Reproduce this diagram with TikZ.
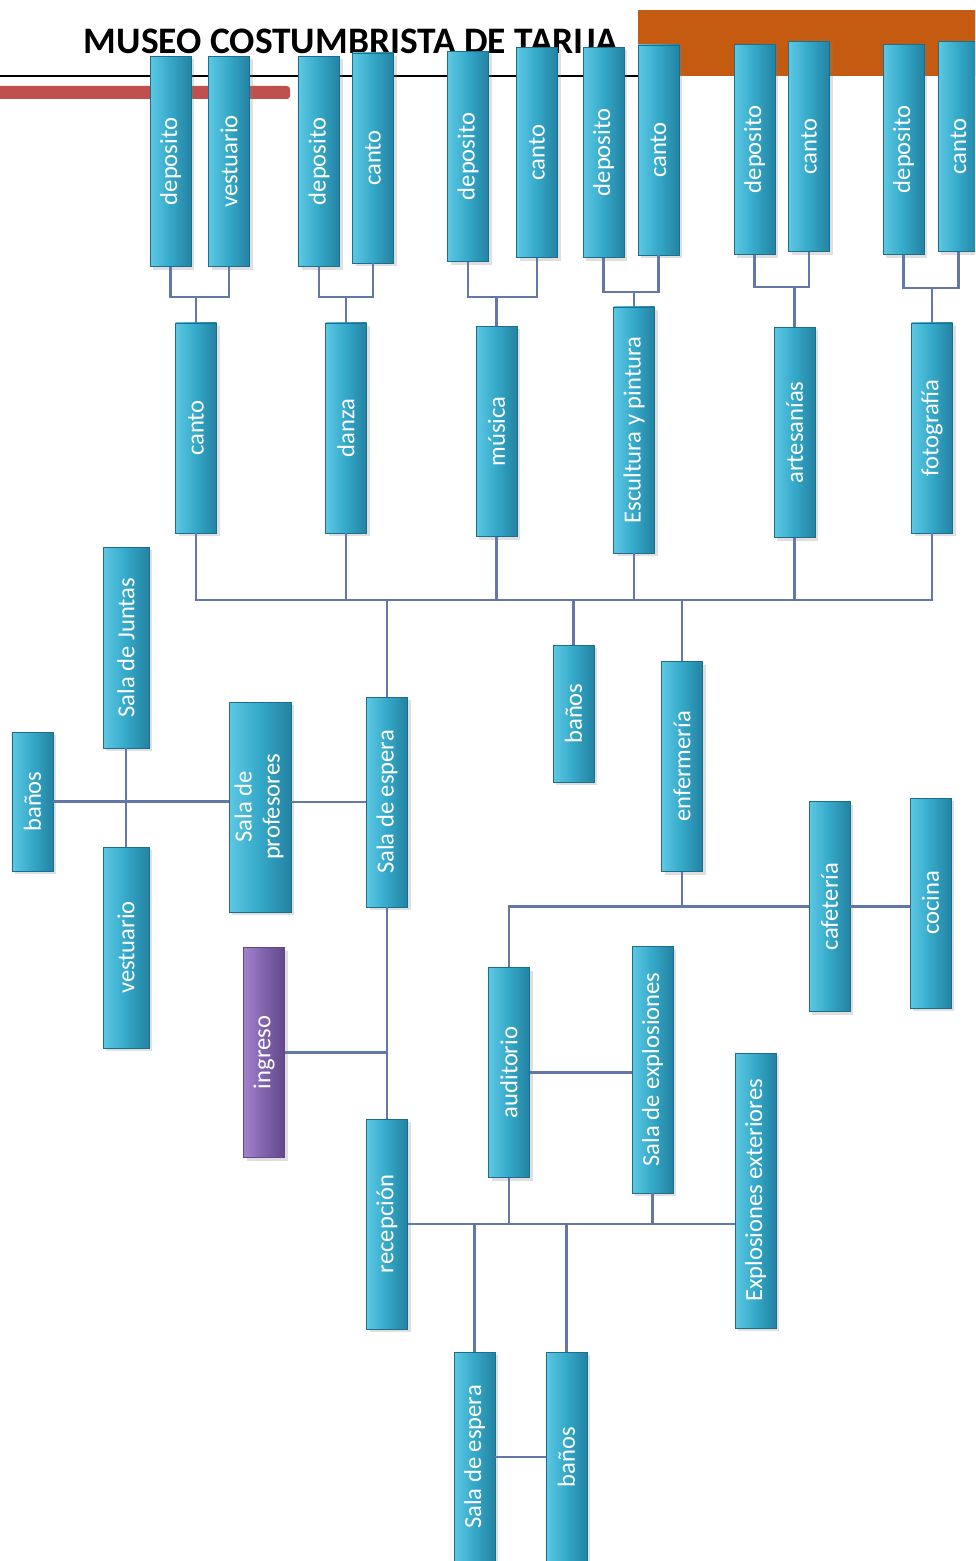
\documentclass[tikz,border=0pt]{standalone}
\usepackage{fontspec}
\setmainfont{Carlito}
\usepackage{graphicx}
\usepackage{array}
\usetikzlibrary{positioning,shadows}
\definecolor{TealLight}{RGB}{92,200,228}
\definecolor{TealMid}{RGB}{52,168,200}
\definecolor{TealDeep}{RGB}{36,130,162}
\definecolor{TealEdge}{RGB}{28,110,138}
\definecolor{PurpleLight}{RGB}{162,130,206}
\definecolor{PurpleMid}{RGB}{128,98,170}
\definecolor{PurpleDeep}{RGB}{98,72,138}
\definecolor{RustOrange}{RGB}{197,90,17}
\definecolor{BrickRed}{RGB}{192,80,77}
\definecolor{LinkSlate}{RGB}{100,120,168}
\newcommand{\vlabel}[1]{\rotatebox{90}{#1}}
\tikzset{
    sala/.style={draw=TealEdge, line width=0.3pt, left color=TealLight, right color=TealDeep, middle color=TealMid,
        text=white, font=\fontsize{14}{16}\selectfont, inner sep=0pt, minimum width=8.2mm, minimum height=42mm,
        drop shadow={opacity=0.25, shadow xshift=0.6mm, shadow yshift=-0.6mm}},
    salamorada/.style={sala, draw=PurpleDeep, left color=PurpleLight, right color=PurpleDeep, middle color=PurpleMid},
    enlace/.style={draw=LinkSlate, line width=1.3pt}
}

\begin{document}
\begin{tikzpicture}[x=0.2mm,y=-0.2mm]
    \useasboundingbox (0,0) rectangle (975,1561);
    \clip (0,0) rectangle (975,1561);
    \fill[white] (0,0) rectangle (975,1561);
    \fill[RustOrange] (638,10) rectangle (980,76);
    \draw[black,line width=1.2pt] (0,76) -- (640,76);
    \fill[BrickRed,rounded corners=0.6mm] (-5,86) rectangle (290,99);
    \node[font=\bfseries\fontsize{21.3}{23}\selectfont,anchor=base] (titulo) at (351,54) {MUSEO COSTUMBRISTA DE TARIJA};

    \node[sala] (dep1) at (170.5,161.5) {\vlabel{deposito}};
    \node[sala] (vest1) at (229,161.5) {\vlabel{vestuario}};
    \node[sala] (dep2) at (319,161.5) {\vlabel{deposito}};
    \node[sala] (can2) at (373,158) {\vlabel{canto}};
    \node[sala] (dep3) at (468,156.5) {\vlabel{deposito}};
    \node[sala] (can3) at (537,152.5) {\vlabel{canto}};
    \node[sala] (dep4) at (603.5,152.5) {\vlabel{deposito}};
    \node[sala] (can4) at (658.5,150) {\vlabel{canto}};
    \node[sala] (dep5) at (754.5,149.5) {\vlabel{deposito}};
    \node[sala] (can5) at (809,146.5) {\vlabel{canto}};
    \node[sala] (dep6) at (903.5,149.5) {\vlabel{deposito}};
    \node[sala] (can6) at (958.5,146.5) {\vlabel{canto}};

    \node[sala] (canto) at (196,428) {\vlabel{canto}};
    \node[sala] (danza) at (346,428) {\vlabel{danza}};
    \node[sala] (musica) at (496.5,431.5) {\vlabel{música}};
    \node[sala,minimum height=49.2mm] (escultura) at (634,430) {\vlabel{Escultura y pintura}};
    \node[sala] (artesanias) at (794.5,432.5) {\vlabel{artesanías}};
    \node[sala] (fotografia) at (932,428) {\vlabel{fotografía}};

    \node[sala,minimum width=9.2mm,minimum height=40.2mm] (juntas) at (126,647.5) {\vlabel{Sala de Juntas}};
    \node[sala,minimum height=27.8mm] (banosA) at (32.5,801.5) {\vlabel{baños}};
    \node[sala,minimum width=9.2mm,minimum height=40.2mm] (vestuario) at (126,947.5) {\vlabel{vestuario}};
    \node[sala,minimum width=12.4mm] (profesores) at (260,807) {\vlabel{\begin{tabular}{@{}c@{}}Sala de\\profesores\end{tabular}}};
    \node[sala] (esperaA) at (387,802) {\vlabel{Sala de espera}};
    \node[sala,minimum height=27.4mm] (banosB) at (573.5,713.5) {\vlabel{baños}};
    \node[sala] (enfermeria) at (682,766.5) {\vlabel{enfermería}};
    \node[sala] (cafeteria) at (829.5,906.5) {\vlabel{cafetería}};
    \node[sala] (cocina) at (930.5,903) {\vlabel{cocina}};
    \node[salamorada] (ingreso) at (264,1052.5) {\vlabel{ingreso}};
    \node[sala] (auditorio) at (509,1072.5) {\vlabel{auditorio}};
    \node[sala,minimum height=49.4mm] (explosiones) at (652.5,1069.5) {\vlabel{Sala de explosiones}};
    \node[sala,minimum height=55mm] (exteriores) at (755.5,1190.5) {\vlabel{Explosiones exteriores}};
    \node[sala] (recepcion) at (387,1224) {\vlabel{recepción}};
    \node[sala] (esperaB) at (474.5,1457) {\vlabel{Sala de espera}};
    \node[sala] (banosC) at (566.5,1457) {\vlabel{baños}};

    \draw[enlace] (canto.north) -- ++(0,-26) coordinate (g1);
    \draw[enlace] (dep1.south) |- (g1) -| (vest1.south);
    \draw[enlace] (danza.north) -- ++(0,-26) coordinate (g2);
    \draw[enlace] (dep2.south) |- (g2) -| (can2.south);
    \draw[enlace] (musica.north) -- ++(0,-29) coordinate (g3);
    \draw[enlace] (dep3.south) |- (g3) -| (can3.south);
    \draw[enlace] (escultura.north) -- ++(0,-15) coordinate (g4);
    \draw[enlace] (dep4.south) |- (g4) -| (can4.south);
    \draw[enlace] (artesanias.north) -- ++(0,-40) coordinate (g5);
    \draw[enlace] (dep5.south) |- (g5) -| (can5.south);
    \draw[enlace] (fotografia.north) -- ++(0,-35) coordinate (g6);
    \draw[enlace] (dep6.south) |- (g6) -| (can6.south);

    \coordinate (bus) at (387,600);
    \draw[enlace] (canto.south) |- (bus) -| (fotografia.south);
    \foreach \n in {danza,musica,escultura,artesanias}
        \draw[enlace] (\n.south) -- (\n.south |- bus);
    \foreach \n in {esperaA,banosB,enfermeria}
        \draw[enlace] (\n.north) -- (\n.north |- bus);

    \draw[enlace] (banosA.east) -- (profesores.west |- banosA.east);
    \draw[enlace] (profesores.east |- esperaA.west) -- (esperaA.west);
    \draw[enlace] (juntas.south) -- (vestuario.north);
    \draw[enlace] (esperaA.south) -- (recepcion.north);
    \draw[enlace] (ingreso.east) -- (ingreso.east -| esperaA.south);
    \draw[enlace] (auditorio.north) |- (cafeteria.west);
    \draw[enlace] (enfermeria.south) -- (enfermeria.south |- cafeteria.west);
    \draw[enlace] (cafeteria.east) -- (cocina.west |- cafeteria.east);
    \draw[enlace] (auditorio.east) -- (explosiones.west |- auditorio.east);
    \draw[enlace] (recepcion.east) -- (exteriores.west |- recepcion.east);
    \foreach \n in {auditorio,explosiones}
        \draw[enlace] (\n.south) -- (\n.south |- recepcion.east);
    \foreach \n in {esperaB,banosC}
        \draw[enlace] (\n.north) -- (\n.north |- recepcion.east);
    \draw[enlace] (esperaB.east) -- (banosC.west);
\end{tikzpicture}
\end{document}
